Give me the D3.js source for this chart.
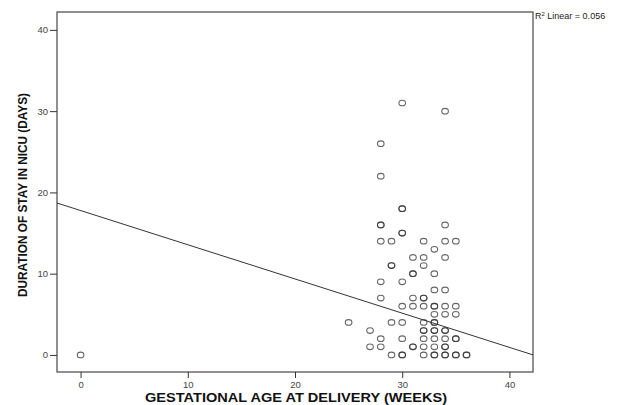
<!DOCTYPE html>
<html>
<head>
<meta charset="utf-8">
<script src="https://cdn.jsdelivr.net/npm/d3@7"></script>
<style>
  body { margin: 0; background: #fff; }
  text { font-family: Arial, "Liberation Sans", sans-serif; }
</style>
</head>
<body>
<script>
// Gestational age (weeks) and NICU stay (days), one entry per case (repeats = overlapping points)
const ageWeeks = [
    0, 25, 27, 27,
    28, 28, 28, 28, 28, 28, 28, 28, 28,
    29, 29, 29, 29, 29,
    30, 30, 30, 30, 30, 30, 30, 30, 30, 30, 30,
    31, 31, 31, 31, 31, 31, 31,
    32, 32, 32, 32, 32, 32, 32, 32, 32, 32, 32, 32,
    33, 33, 33, 33, 33, 33, 33, 33, 33, 33, 33, 33, 33, 33,
    34, 34, 34, 34, 34, 34, 34, 34, 34, 34, 34, 34, 34, 34,
    35, 35, 35, 35, 35, 35, 35,
    36, 36
];
const stayDays = [
    0, 4, 3, 1,
    26, 22, 16, 16, 14, 9, 7, 2, 1,
    14, 11, 11, 4, 0,
    31, 18, 18, 15, 15, 9, 6, 4, 2, 0, 0,
    12, 10, 10, 7, 6, 1, 1,
    14, 12, 11, 7, 7, 6, 4, 3, 3, 2, 1, 0,
    13, 10, 8, 6, 6, 5, 4, 4, 3, 3, 2, 1, 0, 0,
    30, 16, 14, 12, 8, 6, 5, 3, 3, 2, 1, 1, 0, 0,
    14, 6, 5, 2, 2, 0, 0,
    0, 0
];
const xTicks = [0, 10, 20, 30, 40];
const yTicks = [0, 10, 20, 30, 40];
const fitIntercept = 17.77;
const fitSlope = -0.421;
const rSquared = "0.056";

const width = 618, height = 405;
const plot = { left: 57, right: 533, top: 12, bottom: 372 };

const svg = d3.select("body").append("svg")
    .attr("width", width)
    .attr("height", height);

const x = d3.scaleLinear().domain([-2.2, 42.2]).range([plot.left, plot.right]);
const y = d3.scaleLinear().domain([-2.1, 42.2]).range([plot.bottom, plot.top]);

// Frame
svg.append("rect")
    .attr("x", plot.left)
    .attr("y", plot.top)
    .attr("width", plot.right - plot.left)
    .attr("height", plot.bottom - plot.top)
    .attr("fill", "none")
    .attr("stroke", "#555")
    .attr("stroke-width", 1.3);

// Axes
const xAxis = svg.append("g")
    .attr("transform", `translate(0,${plot.bottom})`)
    .call(d3.axisBottom(x).tickValues(xTicks).tickSize(6).tickPadding(3));
const yAxis = svg.append("g")
    .attr("transform", `translate(${plot.left},0)`)
    .call(d3.axisLeft(y).tickValues(yTicks).tickSize(7).tickPadding(2));

[xAxis, yAxis].forEach(g => {
    g.select(".domain").remove();
    g.selectAll(".tick line").attr("stroke", "#333");
    g.selectAll(".tick text")
        .attr("fill", "#444")
        .style("font-size", "9.5px");
});

// Scatter points (slightly wide markers, as in the original export)
const points = ageWeeks.map((a, i) => ({ a: a, d: stayDays[i] }));
svg.append("g")
    .selectAll("ellipse")
    .data(points)
    .enter()
    .append("ellipse")
    .attr("cx", p => x(p.a))
    .attr("cy", p => y(p.d))
    .attr("rx", 3.3)
    .attr("ry", 2.8)
    .attr("fill", "none")
    .attr("stroke", "#333")
    .attr("stroke-width", 1.1)
    .attr("stroke-opacity", 0.75);

// Linear fit line across the plot
const [x0, x1] = x.domain();
svg.append("line")
    .attr("x1", x(x0))
    .attr("y1", y(fitIntercept + fitSlope * x0))
    .attr("x2", x(x1))
    .attr("y2", y(fitIntercept + fitSlope * x1))
    .attr("stroke", "#333")
    .attr("stroke-width", 1);

// R squared annotation
const r2 = svg.append("text")
    .attr("x", plot.right + 2)
    .attr("y", 19)
    .attr("fill", "#222")
    .style("font-size", "9px");
r2.append("tspan").text("R");
r2.append("tspan").attr("dy", -3).style("font-size", "6px").text("2");
r2.append("tspan").attr("dy", 3).text(" Linear = " + rSquared);

// Axis titles
svg.append("text")
    .attr("x", 296)
    .attr("y", 402)
    .attr("text-anchor", "middle")
    .attr("textLength", 302)
    .attr("lengthAdjust", "spacingAndGlyphs")
    .style("font-size", "12px")
    .style("font-weight", "bold")
    .attr("fill", "#111")
    .text("GESTATIONAL AGE AT DELIVERY (WEEKS)");

svg.append("text")
    .attr("transform", "translate(27,195) rotate(-90)")
    .attr("text-anchor", "middle")
    .attr("textLength", 204)
    .attr("lengthAdjust", "spacingAndGlyphs")
    .style("font-size", "12px")
    .style("font-weight", "bold")
    .attr("fill", "#111")
    .text("DURATION OF STAY IN NICU (DAYS)");
</script>
</body>
</html>
